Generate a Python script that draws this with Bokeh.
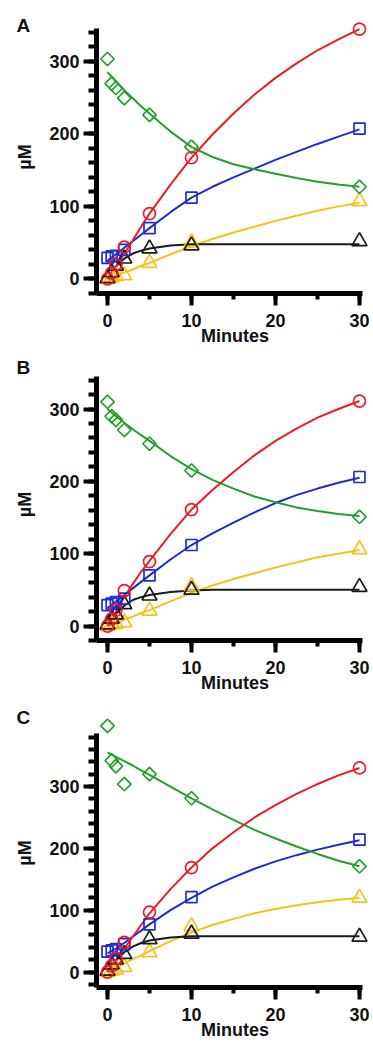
import numpy as np
from bokeh.plotting import figure
from bokeh.models import Range1d, SingleIntervalTicker
from bokeh.layouts import column
from bokeh.embed import file_html
from bokeh.resources import INLINE

# ---------------- data ----------------
TIMES = [0, 0.5, 1, 2, 5, 10, 30]                      # sampled minutes
FIT_T = [0, 1, 2, 3, 4, 5, 7.5, 10, 12.5, 15, 17.5, 20, 22.5, 25, 27.5, 30]  # fitted-curve minutes
PANELS = ["A", "B", "C"]
X_TICK_LABELS = ["0", "10", "20", "30"]
Y_TICK_LABELS = ["0", "100", "200", "300"]

# measured points (µM)
A_red    = [0, 8, 20, 44, 90, 167, 344]
A_blue   = [29, 31, 32, 40, 70, 112, 207]
A_green  = [303, 269, 263, 249, 226, 182, 127]
A_black  = [1, 9, 18, 28, 42, 46, 52]
A_yellow = [0, 2, 4, 5, 22, 50, 107]

B_red    = [0, 10, 22, 49, 89, 161, 311]
B_blue   = [29, 31, 33, 38, 70, 112, 206]
B_green  = [310, 290, 285, 271, 252, 215, 151]
B_black  = [2, 10, 16, 30, 42, 50, 54]
B_yellow = [0, 2, 3, 5, 21, 55, 106]

C_red    = [0, 10, 22, 48, 97, 169, 330]
C_blue   = [33, 35, 37, 45, 77, 121, 214]
C_green  = [398, 342, 333, 304, 320, 281, 171]
C_black  = [2, 12, 20, 29, 53, 62, 57]
C_yellow = [0, 2, 4, 8, 32, 74, 120]

# fitted curves (µM at FIT_T)
A_red_fit    = [0, 17, 35, 53, 72, 90, 130, 167, 199, 228, 254, 277, 297, 315, 330, 344]
A_blue_fit   = [25, 34, 43, 52, 61, 70, 92, 112, 127, 140, 152, 164, 175, 186, 196, 206]
A_green_fit  = [285, 272, 260, 249, 238, 228, 203, 182, 168, 158, 151, 145, 139, 134, 130, 127]
A_black_fit  = [0, 17, 28, 35, 39, 42, 46, 48, 48, 48, 48, 48, 48, 48, 48, 48]
A_yellow_fit = [0, 4, 9, 13, 18, 22, 34, 45, 55, 64, 72, 80, 87, 94, 100, 105]

B_red_fit    = [0, 20, 40, 58, 75, 90, 127, 161, 188, 213, 236, 256, 273, 288, 300, 311]
B_blue_fit   = [25, 34, 43, 52, 61, 70, 92, 112, 128, 143, 157, 170, 181, 190, 198, 205]
B_green_fit  = [300, 290, 281, 272, 264, 256, 235, 217, 202, 190, 179, 171, 164, 159, 155, 152]
B_black_fit  = [0, 17, 28, 36, 40, 43, 47, 49, 50, 50, 50, 50, 50, 50, 50, 50]
B_yellow_fit = [0, 4, 9, 13, 18, 22, 34, 46, 56, 65, 73, 81, 88, 95, 100, 105]

C_red_fit    = [0, 18, 38, 57, 76, 95, 134, 169, 200, 226, 250, 270, 288, 304, 318, 330]
C_blue_fit   = [30, 38, 47, 57, 67, 77, 100, 120, 138, 153, 167, 179, 189, 198, 206, 213]
C_green_fit  = [355, 348, 341, 334, 326, 319, 300, 281, 263, 246, 230, 216, 203, 191, 180, 171]
C_black_fit  = [0, 19, 32, 41, 47, 51, 56, 58, 58, 58, 58, 58, 58, 58, 58, 58]
C_yellow_fit = [0, 7, 14, 21, 27, 34, 50, 64, 76, 86, 95, 102, 108, 113, 117, 120]

DATA = {
    "A": dict(red=A_red, blue=A_blue, green=A_green, black=A_black, yellow=A_yellow,
              red_fit=A_red_fit, blue_fit=A_blue_fit, green_fit=A_green_fit,
              black_fit=A_black_fit, yellow_fit=A_yellow_fit),
    "B": dict(red=B_red, blue=B_blue, green=B_green, black=B_black, yellow=B_yellow,
              red_fit=B_red_fit, blue_fit=B_blue_fit, green_fit=B_green_fit,
              black_fit=B_black_fit, yellow_fit=B_yellow_fit),
    "C": dict(red=C_red, blue=C_blue, green=C_green, black=C_black, yellow=C_yellow,
              red_fit=C_red_fit, blue_fit=C_blue_fit, green_fit=C_green_fit,
              black_fit=C_black_fit, yellow_fit=C_yellow_fit),
}

# ---------------- style ----------------
COLORS = dict(red="#ea1d25", blue="#1f2bd0", green="#22a02c", black="#1a1a1a", yellow="#f6c21a")
MARKERS = dict(red=("circle", 12, 0), blue=("square", 11, 0), green=("square", 9.5, np.pi / 4),
               black=("triangle", 15, 0), yellow=("triangle", 15, 0))
ORDER = ["yellow", "black", "blue", "green", "red"]
FONT = "Liberation Sans"
FS = "18px"

# layout per panel: y range, axis bounds, border top, frame height, border bottom, letter standoff
LAYOUT = {
    "A": dict(yr=(-20, 356), yb=(-20, 345), top=20, fh=273, bottom=62, ts=-31),
    "B": dict(yr=(-20, 356), yb=(-20, 345), top=13, fh=272, bottom=62, ts=-18),
    "C": dict(yr=(-25, 410), yb=(-25, 386), top=16, fh=269, bottom=58, ts=-18),
}
XR = (-1.31, 31.67)
XB = (-1.31, 30.4)

figs = []
for name in PANELS:
    L = LAYOUT[name]
    d = DATA[name]
    h = L["top"] + L["fh"] + L["bottom"]
    p = figure(width=373, height=h, x_range=Range1d(*XR), y_range=Range1d(*L["yr"]),
               output_backend="svg", toolbar_location=None,
               min_border_left=96, min_border_right=0,
               min_border_top=L["top"], min_border_bottom=L["bottom"])
    p.grid.visible = False
    p.outline_line_color = None
    p.background_fill_color = "white"
    p.border_fill_color = "white"

    # panel letter as the plot title
    p.title.text = name
    p.title.align = "left"
    p.title.vertical_align = "bottom"
    p.title.offset = -80
    p.title.standoff = L["ts"]
    p.title.text_font = FONT
    p.title.text_font_style = "bold"
    p.title.text_font_size = "19px"
    p.title.text_color = "#111111"

    xt = SingleIntervalTicker(interval=10, num_minor_ticks=2)
    yt = SingleIntervalTicker(interval=100, num_minor_ticks=5)
    p.xaxis.ticker = xt
    p.yaxis.ticker = yt
    p.xaxis.major_label_overrides = {i * 10: s for i, s in enumerate(X_TICK_LABELS)}
    p.yaxis.major_label_overrides = {i * 100: s for i, s in enumerate(Y_TICK_LABELS)}
    p.xaxis.bounds = XB
    p.yaxis.bounds = L["yb"]
    for ax in (p.xaxis, p.yaxis):
        ax.axis_line_width = 5
        ax.axis_line_color = "black"
        ax.major_tick_line_width = 4
        ax.minor_tick_line_width = 4
        ax.major_tick_line_color = "black"
        ax.minor_tick_line_color = "black"
        ax.major_tick_in = 0
        ax.minor_tick_in = 0
        ax.major_label_text_font = FONT
        ax.major_label_text_font_style = "bold"
        ax.major_label_text_font_size = FS
        ax.major_label_text_color = "#111111"
        ax.axis_label_text_font = FONT
        ax.axis_label_text_font_style = "bold"
        ax.axis_label_text_font_size = FS
        ax.axis_label_text_color = "#111111"
    p.xaxis.major_tick_out = 12
    p.xaxis.minor_tick_out = 6
    p.yaxis.major_tick_out = 13
    p.yaxis.minor_tick_out = 8
    p.xaxis.major_label_standoff = 8
    p.yaxis.major_label_standoff = 4
    p.xaxis.axis_label = "Minutes"
    p.yaxis.axis_label = "µM"
    p.xaxis.axis_label_standoff = -4
    p.yaxis.axis_label_standoff = 11

    for c in ORDER:
        p.line(FIT_T, d[c + "_fit"], line_color=COLORS[c], line_width=2)
    for c in ORDER:
        mk, sz, ang = MARKERS[c]
        p.scatter(TIMES, d[c], marker=mk, size=sz, angle=ang, fill_color=None,
                  line_color=COLORS[c], line_width=1.7)
    figs.append(p)

layout = column(*figs, spacing=0)
open("out.html", "w").write(file_html(layout, INLINE))
